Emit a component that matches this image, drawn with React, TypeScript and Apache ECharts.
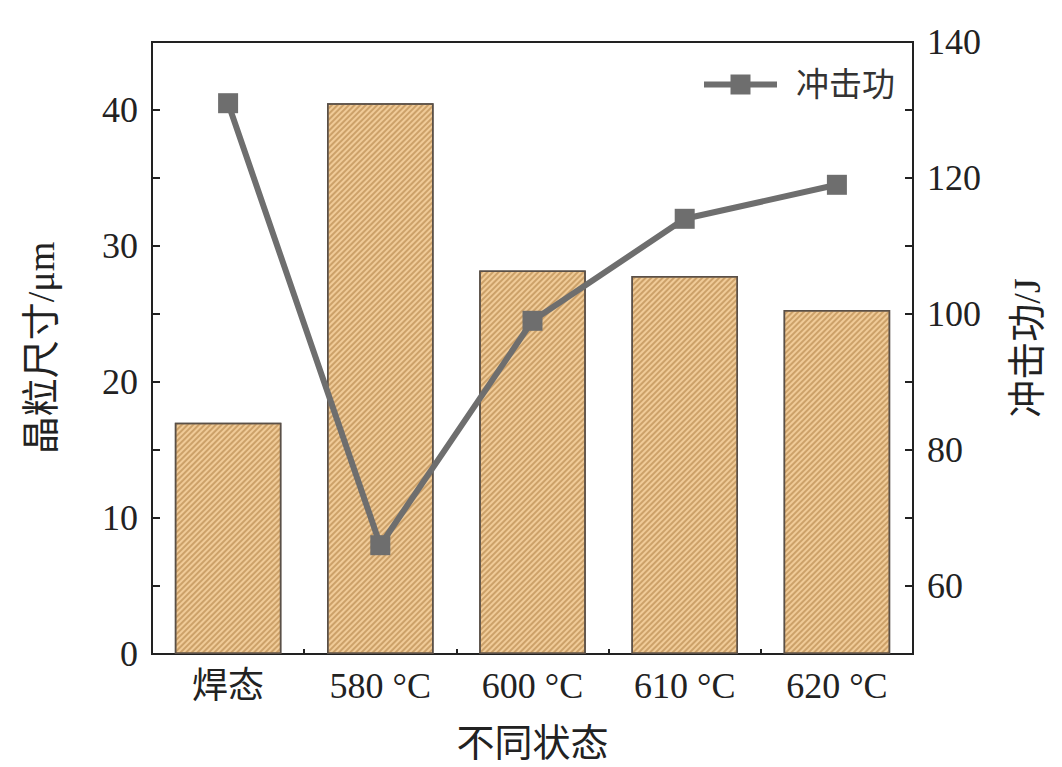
import React, { useEffect, useRef } from "react";
import * as echarts from "echarts";

const categories = ["焊态", "580 °C", "600 °C", "610 °C", "620 °C"];
const grainSize = [17.0, 40.5, 28.2, 27.8, 25.3];
const impactEnergy = [131, 66, 99, 114, 119];
const leftName = "晶粒尺寸/μm";
const rightName = "冲击功/J";
const xName = "不同状态";
const lineName = "冲击功";

const FONT = "'Liberation Serif', 'Times New Roman', 'Noto Sans CJK SC', serif";
const TEXT = "#222";
const GRAY = "#6e6e6e";

export default function App() {
  const ref = useRef<HTMLDivElement>(null);
  useEffect(() => {
    if (!ref.current) return;
    const chart = echarts.init(ref.current, null, { renderer: "svg" });
    const option: any = {
      animation: false,
      backgroundColor: "#fff",
      textStyle: { fontFamily: FONT },
      grid: {
        left: 152,
        right: 149,
        top: 42,
        bottom: 110,
        show: true,
        borderColor: TEXT,
        borderWidth: 2,
        backgroundColor: "transparent",
      },
      legend: {
        data: [lineName],
        right: 162,
        top: 63,
        itemWidth: 73,
        itemHeight: 25,
        lineStyle: { width: 6, color: GRAY },
        itemStyle: { color: GRAY },
        textStyle: { fontFamily: FONT, fontSize: 33, color: "#333", padding: [0, 0, 0, 14] },
      },
      xAxis: [
        {
          type: "category",
          data: categories,
          position: "bottom",
          name: xName,
          nameLocation: "middle",
          nameGap: 70,
          nameTextStyle: { fontFamily: FONT, fontSize: 38, color: TEXT },
          axisLine: { show: true, lineStyle: { color: TEXT, width: 2 } },
          axisTick: { show: true, inside: true, length: 5, lineStyle: { color: TEXT, width: 2 } },
          axisLabel: { fontFamily: FONT, fontSize: 36, color: TEXT, margin: 14 },
          splitLine: { show: false },
        },
        {
          type: "category",
          data: categories,
          position: "bottom",
          axisLine: { show: false },
          axisTick: { show: true, inside: true, alignWithLabel: true, length: 9, lineStyle: { color: TEXT, width: 2 } },
          axisLabel: { show: false },
          splitLine: { show: false },
        },
      ],
      yAxis: [
        {
          type: "value",
          min: 0,
          max: 45,
          interval: 5,
          position: "left",
          name: leftName,
          nameLocation: "middle",
          nameGap: 92,
          nameTextStyle: { fontFamily: FONT, fontSize: 38, color: TEXT },
          axisLine: { show: true, lineStyle: { color: TEXT, width: 2 } },
          axisTick: { show: true, inside: true, length: 8, lineStyle: { color: TEXT, width: 2 } },
          axisLabel: {
            fontFamily: FONT,
            fontSize: 36,
            color: TEXT,
            margin: 14,
            showMaxLabel: false,
            formatter: (v: number) => (v % 10 === 0 && v <= 40 ? String(v) : ""),
          },
          splitLine: { show: false },
        },
        {
          type: "value",
          min: 50,
          max: 140,
          interval: 10,
          position: "right",
          name: rightName,
          nameLocation: "middle",
          nameRotate: 90,
          nameGap: 95,
          nameTextStyle: { fontFamily: FONT, fontSize: 38, color: TEXT },
          axisLine: { show: true, lineStyle: { color: TEXT, width: 2 } },
          axisTick: { show: true, inside: true, length: 8, lineStyle: { color: TEXT, width: 2 } },
          axisLabel: {
            fontFamily: FONT,
            fontSize: 36,
            color: TEXT,
            margin: 14,
            formatter: (v: number) => ((v - 60) % 20 === 0 && v >= 60 ? String(v) : ""),
          },
          splitLine: { show: false },
        },
      ],
      series: [
        {
          name: "晶粒尺寸",
          type: "bar",
          xAxisIndex: 0,
          yAxisIndex: 0,
          data: grainSize,
          barWidth: "70%",
          itemStyle: {
            color: "#F0CB98",
            borderColor: "#5a5048",
            borderWidth: 1.5,
            decal: {
              symbol: "rect",
              symbolSize: 1,
              dashArrayX: [1, 0],
              dashArrayY: [1.3, 1.9],
              rotation: -Math.PI / 4,
              color: "rgba(175, 125, 65, 0.55)",
            },
          },
          z: 2,
        },
        {
          name: lineName,
          type: "line",
          xAxisIndex: 0,
          yAxisIndex: 1,
          data: impactEnergy,
          symbol: "rect",
          symbolSize: 20,
          lineStyle: { color: GRAY, width: 6 },
          itemStyle: { color: GRAY },
          z: 5,
        },
      ],
    };
    chart.setOption(option);
    return () => chart.dispose();
  }, []);
  return (
    <div
      ref={ref}
      style={{ position: "fixed", left: 0, top: 0, width: 1062, height: 767, background: "#fff" }}
    />
  );
}
